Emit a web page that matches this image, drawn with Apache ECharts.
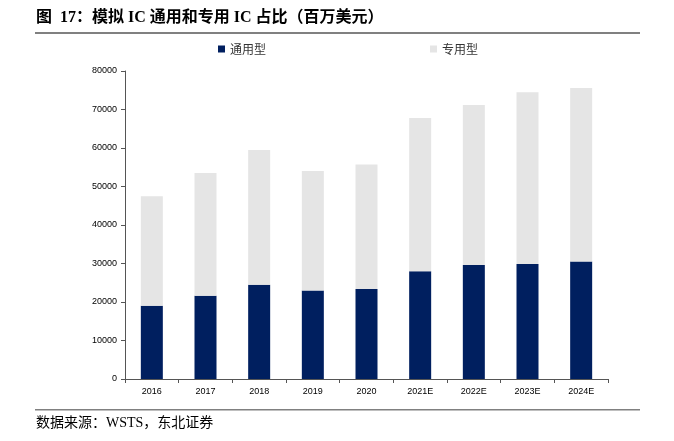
<!DOCTYPE html>
<html>
<head>
<meta charset="utf-8">
<script src="https://cdn.jsdelivr.net/npm/echarts@6/dist/echarts.min.js"></script>
<style>
html,body{margin:0;padding:0;background:#fff;}
#c{width:674px;height:441px;}
</style>
</head>
<body>
<div id="c"></div>
<script>
var categories = ['2016','2017','2018','2019','2020','2021E','2022E','2023E','2024E'];
var generalPurpose = [19000, 21600, 24500, 23000, 23400, 28000, 29600, 29900, 30500];
var applicationSpecific = [28500, 31900, 35000, 31000, 32300, 39800, 41600, 44600, 45100];
var yTicks = [0, 10000, 20000, 30000, 40000, 50000, 60000, 70000, 80000];

var chart = echarts.init(document.getElementById('c'));
var titleFont = '"Liberation Serif", "Noto Sans CJK SC", serif';
chart.setOption({
  animation: false,
  backgroundColor: '#fff',
  graphic: [
    {type:'text', left: 36, top: 10, style:{text:'图  17：模拟 IC 通用和专用 IC 占比（百万美元）', font:'bold 16px ' + titleFont, fill:'#000'}},
    {type:'rect', shape:{x:35, y:32, width:605, height:2}, style:{fill:'#808080'}},
    {type:'rect', shape:{x:35, y:409, width:605, height:1.5}, style:{fill:'#808080'}},
    {type:'text', left: 36, top: 416, style:{text:'数据来源：WSTS，东北证券', font:'14px ' + titleFont, fill:'#000'}}
  ],
  legend: [
    {data:['通用型'], left: 213, top: 38, itemWidth: 7, itemHeight: 7, icon:'rect', itemGap: 4,
     textStyle:{fontSize:12, color:'#333', fontFamily:'"Noto Sans CJK SC"'}},
    {data:['专用型'], left: 425, top: 38, itemWidth: 7, itemHeight: 7, icon:'rect', itemGap: 4,
     textStyle:{fontSize:12, color:'#333', fontFamily:'"Noto Sans CJK SC"'}}
  ],
  grid: {left: 125, right: 66, top: 71, bottom: 62, containLabel: false},
  xAxis: {
    type: 'category',
    data: categories,
    axisLine: {lineStyle:{color:'#555', width:1}},
    axisTick: {show:true, alignWithLabel:false, inside:false, length:4, lineStyle:{color:'#555'}},
    axisLabel: {fontSize: 9, color:'#000', fontFamily:'"Liberation Sans", Arial', margin: 8}
  },
  yAxis: {
    type: 'value',
    min: yTicks[0], max: yTicks[yTicks.length-1], interval: 10000,
    axisLine: {show:true, lineStyle:{color:'#555', width:1}},
    axisTick: {show:true, length:4, lineStyle:{color:'#555'}},
    splitLine: {show:false},
    axisLabel: {fontSize: 9, color:'#000', fontFamily:'"Liberation Sans", Arial', margin: 8,
      formatter: function(v){ return String(v); }}
  },
  series: [
    {name:'通用型', type:'bar', stack:'a', data: generalPurpose, barWidth: 22, itemStyle:{color:'#001f5f'}},
    {name:'专用型', type:'bar', stack:'a', data: applicationSpecific, barWidth: 22, itemStyle:{color:'#e5e5e5'}}
  ]
});
</script>
</body>
</html>
